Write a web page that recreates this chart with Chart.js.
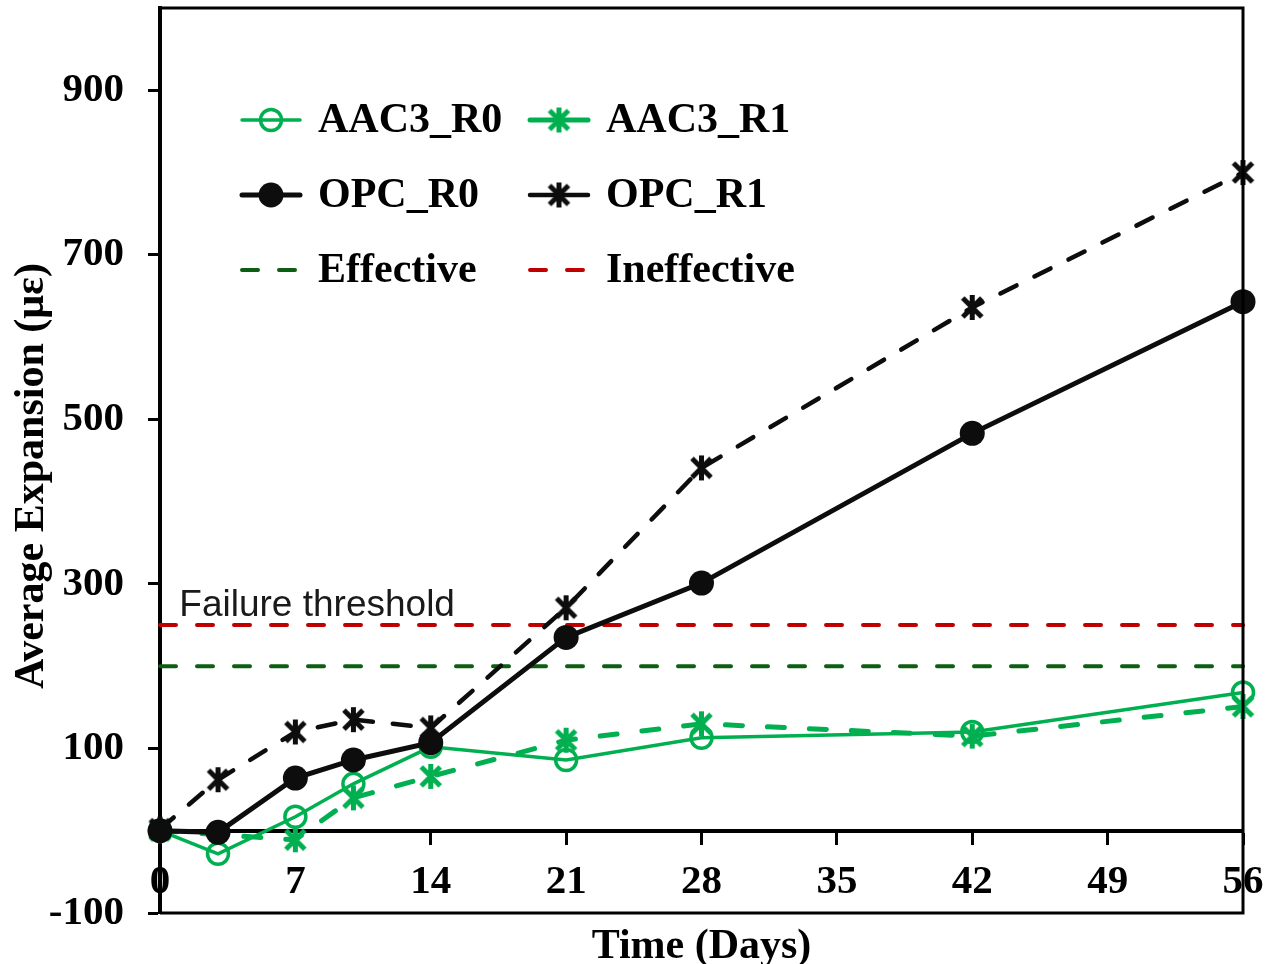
<!DOCTYPE html>
<html>
<head>
<meta charset="utf-8">
<script src="https://cdn.jsdelivr.net/npm/chart.js@4.4.1/dist/chart.umd.min.js"></script>
<style>
html,body{margin:0;padding:0;background:#fff;}
canvas{display:block;}
</style>
</head>
<body>
<canvas id="c" width="1268" height="964"></canvas>
<script>
// ---- data ----
const days = [0, 3, 7, 10, 14, 21, 28, 42, 56];
const aac3R0 = [0, -28, 17, 57, 102, 86, 113, 120, 168];
const aac3R1 = [0, null, -11, 40, 66, 110, 130, 115, 151];
const opcR0 = [0, -2, 64, 86, 107, 235, 301, 483, 643];
const opcR1 = [2, 62, 120, 135, 125, 271, 441, 636, 800];
const effectiveLimit = 200;
const ineffectiveLimit = 250;
const seriesNames = ['AAC3_R0', 'AAC3_R1', 'OPC_R0', 'OPC_R1', 'Effective', 'Ineffective'];
const yLabelValues = [-100, 100, 300, 500, 700, 900];
const xLabelValues = [0, 7, 14, 21, 28, 35, 42, 49, 56];
const thresholdText = 'Failure threshold';
const yTitle = 'Average Expansion (με)';
const xTitle = 'Time (Days)';

const GREEN = '#00b050', BLACK = '#0d0d0d', DKGREEN = '#0b5e12', RED = '#c00000';
const SERIF = "'Liberation Serif','Times New Roman',serif";

function makeStar(color, size, lw) {
  const c = document.createElement('canvas');
  c.width = size; c.height = size;
  const g = c.getContext('2d');
  g.strokeStyle = color; g.lineWidth = lw;
  const m = size / 2, r = size / 2 - 1, d = r * 0.76;
  g.beginPath();
  g.moveTo(m, m - r); g.lineTo(m, m + r);
  g.moveTo(m - d, m - d); g.lineTo(m + d, m + d);
  g.moveTo(m + d, m - d); g.lineTo(m - d, m + d);
  g.stroke();
  return c;
}
const starGreen = makeStar(GREEN, 27, 5);
const starBlack = makeStar(BLACK, 27, 5);

const pts = (arr) => days.map((d, i) => ({x: d, y: arr[i]}));
const flat = (v) => [{x: days[0], y: v}, {x: days[days.length - 1], y: v}];

const datasets = [
  {label: seriesNames[2], data: pts(opcR0), borderColor: BLACK, backgroundColor: BLACK, borderWidth: 5,
   pointStyle: 'circle', pointRadius: 12.5, pointBorderWidth: 0, pointBackgroundColor: BLACK, clip: false},
  {label: seriesNames[3], data: pts(opcR1), borderColor: BLACK, borderWidth: 4.5, borderDash: [18, 20], borderCapStyle: 'round',
   pointStyle: starBlack, pointRadius: 13, clip: false},
  {label: seriesNames[0], data: pts(aac3R0), borderColor: GREEN, borderWidth: 3.5,
   pointStyle: 'circle', pointRadius: 10.5, pointBorderWidth: 3.5, pointBorderColor: GREEN, pointBackgroundColor: 'rgba(0,0,0,0)', clip: false},
  {label: seriesNames[1], data: pts(aac3R1), borderColor: GREEN, borderWidth: 5, borderDash: [17, 25], borderCapStyle: 'round',
   pointStyle: starGreen, pointRadius: 13, spanGaps: true, clip: false},
  {label: seriesNames[4], data: flat(effectiveLimit), borderColor: DKGREEN, borderWidth: 4, borderDash: [16, 21], borderCapStyle: 'round',
   pointRadius: 0, clip: false},
  {label: seriesNames[5], data: flat(ineffectiveLimit), borderColor: RED, borderWidth: 4, borderDash: [16, 21], borderCapStyle: 'round',
   pointRadius: 0, clip: false}
];

const isYMajor = (v) => yLabelValues.some(t => Math.abs(t - v) < 1e-6);
const isXMajor = (v) => xLabelValues.some(t => Math.abs(t - v) < 1e-6);

const framePlugin = {
  id: 'frame',
  afterDraw(chart) {
    const {ctx, chartArea: a, scales} = chart;
    ctx.save();
    // minor ticks
    ctx.strokeStyle = '#000'; ctx.lineWidth = 3;
    scales.y.ticks.forEach(t => {
      if (isYMajor(t.value)) return;
      const p = scales.y.getPixelForValue(t.value);
      ctx.beginPath(); ctx.moveTo(a.left - 8, p); ctx.lineTo(a.left, p); ctx.stroke();
    });
    const y0 = scales.y.getPixelForValue(0);
    scales.x.ticks.forEach(t => {
      if (isXMajor(t.value)) return;
      const p = scales.x.getPixelForValue(t.value);
      ctx.beginPath(); ctx.moveTo(p, y0); ctx.lineTo(p, y0 + 9); ctx.stroke();
    });
    // frame
    ctx.strokeStyle = '#000'; ctx.lineWidth = 3;
    ctx.beginPath();
    ctx.moveTo(a.left, a.top); ctx.lineTo(a.right, a.top); ctx.lineTo(a.right, a.bottom); ctx.lineTo(a.left, a.bottom);
    ctx.stroke();
    // y title
    ctx.save();
    ctx.fillStyle = '#000';
    ctx.font = "bold 42px " + SERIF;
    ctx.textAlign = 'center'; ctx.textBaseline = 'middle';
    ctx.translate(32, 476); ctx.rotate(-Math.PI / 2);
    ctx.fillText(yTitle, 0, 0);
    ctx.restore();
    // threshold text
    ctx.fillStyle = '#1a1a1a';
    ctx.font = "37px 'Liberation Sans', Arial, sans-serif";
    ctx.textBaseline = 'alphabetic'; ctx.textAlign = 'left';
    ctx.fillText(thresholdText, scales.x.getPixelForValue(1.0), scales.y.getPixelForValue(261));
    // legend
    const order = [[2, 0, 0], [3, 1, 0], [0, 0, 1], [1, 1, 1], [4, 0, 2], [5, 1, 2]];
    const colX = [240, 528], rowY = [120, 195, 270], sampleLen = 62;
    order.forEach(([di, col, row]) => {
      const ds = chart.data.datasets[di];
      const x0 = colX[col], y = rowY[row];
      ctx.save();
      ctx.strokeStyle = ds.borderColor;
      ctx.lineWidth = ds.borderWidth;
      ctx.lineCap = 'round';
      if (di >= 4) ctx.setLineDash(ds.borderDash);
      ctx.beginPath(); ctx.moveTo(x0 + 2, y); ctx.lineTo(x0 + sampleLen - 2, y); ctx.stroke();
      ctx.setLineDash([]);
      const mx = x0 + sampleLen / 2;
      if (ds.pointStyle === 'circle' && ds.pointRadius > 0) {
        ctx.beginPath(); ctx.arc(mx, y, ds.pointRadius, 0, Math.PI * 2);
        if (ds.pointBorderWidth > 0) { ctx.lineWidth = ds.pointBorderWidth; ctx.strokeStyle = ds.pointBorderColor; ctx.stroke(); }
        else { ctx.fillStyle = ds.pointBackgroundColor; ctx.fill(); }
      } else if (ds.pointStyle && ds.pointStyle.getContext) {
        const im = ds.pointStyle;
        ctx.drawImage(im, mx - im.width / 2, y - im.height / 2);
      }
      ctx.restore();
      ctx.fillStyle = '#000';
      ctx.font = "bold 42px " + SERIF;
      ctx.textBaseline = 'middle'; ctx.textAlign = 'left';
      ctx.fillText(ds.label, x0 + 78, y + 1);
    });
    ctx.restore();
  }
};

new Chart(document.getElementById('c'), {
  type: 'line',
  data: {datasets},
  plugins: [framePlugin],
  options: {
    responsive: false,
    devicePixelRatio: 1,
    animation: false,
    layout: {autoPadding: false, padding: {left: 0, top: 8, right: 25, bottom: 51}},
    plugins: {legend: {display: false}, tooltip: {enabled: false}},
    elements: {line: {tension: 0}},
    scales: {
      x: {
        type: 'linear', min: 0, max: 56, position: {y: 0},
        afterFit: (s) => { s.paddingLeft = 0; s.paddingRight = 0; },
        grid: {display: true, drawOnChartArea: false, drawTicks: true, tickLength: 12, tickWidth: 3,
               tickColor: (c) => isXMajor(c.tick.value) ? '#000' : 'rgba(0,0,0,0)'},
        border: {display: true, color: '#000', width: 4},
        ticks: {stepSize: 1.4, autoSkip: false, maxRotation: 0, padding: 15, color: '#000',
                font: {family: SERIF, size: 41, weight: 'bold'},
                callback: (v) => isXMajor(v) ? String(Math.round(v)) : null},
        title: {display: true, text: xTitle, color: '#000', font: {family: SERIF, size: 42, weight: 'bold'}, padding: {top: 0, bottom: 0}}
      },
      y: {
        type: 'linear', min: -100, max: 1000, position: 'left',
        afterFit: (s) => { s.width = 160; s.paddingTop = 0; s.paddingBottom = 0; },
        grid: {display: true, drawOnChartArea: false, drawTicks: true, tickLength: 12, tickWidth: 3,
               tickColor: (c) => isYMajor(c.tick.value) ? '#000' : 'rgba(0,0,0,0)'},
        border: {display: true, color: '#000', width: 4},
        ticks: {stepSize: 50, autoSkip: false, padding: 24, color: '#000',
                font: {family: SERIF, size: 41, weight: 'bold'},
                callback: (v) => isYMajor(v) ? String(v) : null},
        title: {display: false}
      }
    }
  }
});
</script>
</body>
</html>
